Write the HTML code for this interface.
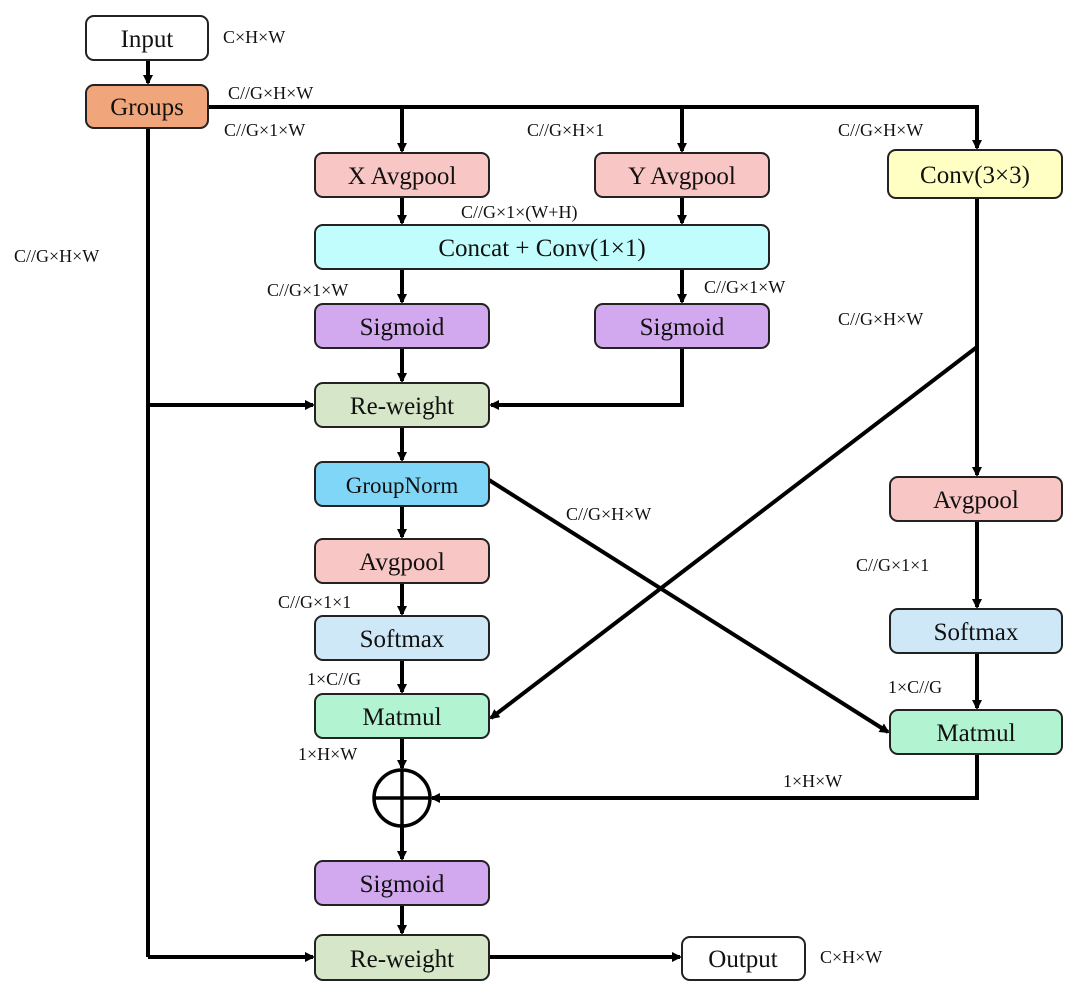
<!DOCTYPE html>
<html><head><style>body{margin:0;background:#fff}</style></head><body>
<svg width="1080" height="1000" viewBox="0 0 1080 1000" xmlns="http://www.w3.org/2000/svg" font-family="Liberation Serif, serif">
<defs><marker id="a" markerWidth="10" markerHeight="10" refX="8" refY="5" orient="auto" markerUnits="userSpaceOnUse"><path d="M0,0 L10,5 L0,10 z" fill="#000"/></marker></defs>
<g stroke="#000" stroke-width="4" fill="none">
<line x1="148" y1="60" x2="148" y2="83" marker-end="url(#a)"/>
<polyline points="208,107 977,107 977,148" marker-end="url(#a)"/>
<line x1="402" y1="107" x2="402" y2="151" marker-end="url(#a)"/>
<line x1="682" y1="107" x2="682" y2="151" marker-end="url(#a)"/>
<line x1="402" y1="197" x2="402" y2="223" marker-end="url(#a)"/>
<line x1="682" y1="197" x2="682" y2="223" marker-end="url(#a)"/>
<line x1="402" y1="269" x2="402" y2="302" marker-end="url(#a)"/>
<line x1="682" y1="269" x2="682" y2="302" marker-end="url(#a)"/>
<line x1="402" y1="348" x2="402" y2="381" marker-end="url(#a)"/>
<polyline points="682,348 682,405 491,405" marker-end="url(#a)"/>
<line x1="148" y1="128" x2="148" y2="957"/>
<line x1="148" y1="405" x2="313" y2="405" marker-end="url(#a)"/>
<line x1="148" y1="957" x2="313" y2="957" marker-end="url(#a)"/>
<line x1="402" y1="427" x2="402" y2="460" marker-end="url(#a)"/>
<line x1="402" y1="506" x2="402" y2="537" marker-end="url(#a)"/>
<line x1="402" y1="583" x2="402" y2="614" marker-end="url(#a)"/>
<line x1="402" y1="660" x2="402" y2="692" marker-end="url(#a)"/>
<line x1="402" y1="738" x2="402" y2="768" marker-end="url(#a)"/>
<line x1="402" y1="826" x2="402" y2="859" marker-end="url(#a)"/>
<line x1="402" y1="905" x2="402" y2="933" marker-end="url(#a)"/>
<line x1="977" y1="198" x2="977" y2="475" marker-end="url(#a)"/>
<line x1="977" y1="347" x2="491" y2="718" marker-end="url(#a)"/>
<line x1="489" y1="480" x2="888" y2="732" marker-end="url(#a)"/>
<line x1="977" y1="521" x2="977" y2="607" marker-end="url(#a)"/>
<line x1="977" y1="653" x2="977" y2="708" marker-end="url(#a)"/>
<polyline points="977,754 977,798 432,798" marker-end="url(#a)"/>
<line x1="489" y1="957" x2="680" y2="957" marker-end="url(#a)"/>
<circle cx="402" cy="798" r="28" stroke-width="3.5"/>
<line x1="374" y1="798" x2="430" y2="798" stroke-width="3.5"/>
<line x1="402" y1="770" x2="402" y2="826" stroke-width="3.5"/>
</g>
<g stroke="#222" stroke-width="2">
<rect x="86" y="16" width="122" height="44" rx="8" fill="#fff"/>
<rect x="86" y="85" width="122" height="43" rx="8" fill="#f0a67a"/>
<rect x="315" y="153" width="174" height="44" rx="8" fill="#f8c6c4"/>
<rect x="595" y="153" width="174" height="44" rx="8" fill="#f8c6c4"/>
<rect x="888" y="150" width="174" height="48" rx="8" fill="#ffffc4"/>
<rect x="315" y="225" width="454" height="44" rx="8" fill="#c2fdfd"/>
<rect x="315" y="304" width="174" height="44" rx="8" fill="#d2a8ee"/>
<rect x="595" y="304" width="174" height="44" rx="8" fill="#d2a8ee"/>
<rect x="315" y="383" width="174" height="44" rx="8" fill="#d6e6c8"/>
<rect x="315" y="462" width="174" height="44" rx="8" fill="#80d6f6"/>
<rect x="315" y="539" width="174" height="44" rx="8" fill="#f8c6c4"/>
<rect x="315" y="616" width="174" height="44" rx="8" fill="#cfe8f8"/>
<rect x="315" y="694" width="174" height="44" rx="8" fill="#b2f4d2"/>
<rect x="315" y="861" width="174" height="44" rx="8" fill="#d2a8ee"/>
<rect x="315" y="935" width="174" height="45" rx="8" fill="#d6e6c8"/>
<rect x="682" y="937" width="123" height="43" rx="8" fill="#fff"/>
<rect x="890" y="477" width="172" height="44" rx="8" fill="#f8c6c4"/>
<rect x="890" y="609" width="172" height="44" rx="8" fill="#cfe8f8"/>
<rect x="890" y="710" width="172" height="44" rx="8" fill="#b2f4d2"/>
</g>
<g font-size="25" text-anchor="middle" fill="#111">
<text x="147" y="47">Input</text>
<text x="147" y="115">Groups</text>
<text x="402" y="184">X Avgpool</text>
<text x="682" y="184">Y Avgpool</text>
<text x="975" y="183">Conv(3×3)</text>
<text x="542" y="256">Concat + Conv(1×1)</text>
<text x="402" y="335">Sigmoid</text>
<text x="682" y="335">Sigmoid</text>
<text x="402" y="414">Re-weight</text>
<text x="402" y="493" font-size="23">GroupNorm</text>
<text x="402" y="570">Avgpool</text>
<text x="402" y="647">Softmax</text>
<text x="402" y="725">Matmul</text>
<text x="402" y="892">Sigmoid</text>
<text x="402" y="967">Re-weight</text>
<text x="743" y="967">Output</text>
<text x="976" y="508">Avgpool</text>
<text x="976" y="640">Softmax</text>
<text x="976" y="741">Matmul</text>
</g>
<g font-size="18" fill="#111">
<text x="223" y="43">C×H×W</text>
<text x="228" y="99">C//G×H×W</text>
<text x="224" y="136">C//G×1×W</text>
<text x="527" y="136">C//G×H×1</text>
<text x="838" y="136">C//G×H×W</text>
<text x="461" y="218">C//G×1×(W+H)</text>
<text x="14" y="262">C//G×H×W</text>
<text x="267" y="296">C//G×1×W</text>
<text x="704" y="293">C//G×1×W</text>
<text x="838" y="325">C//G×H×W</text>
<text x="566" y="520">C//G×H×W</text>
<text x="856" y="571">C//G×1×1</text>
<text x="278" y="608">C//G×1×1</text>
<text x="307" y="685">1×C//G</text>
<text x="888" y="693">1×C//G</text>
<text x="298" y="760">1×H×W</text>
<text x="783" y="787">1×H×W</text>
<text x="820" y="963">C×H×W</text>
</g>
</svg>
</body></html>
